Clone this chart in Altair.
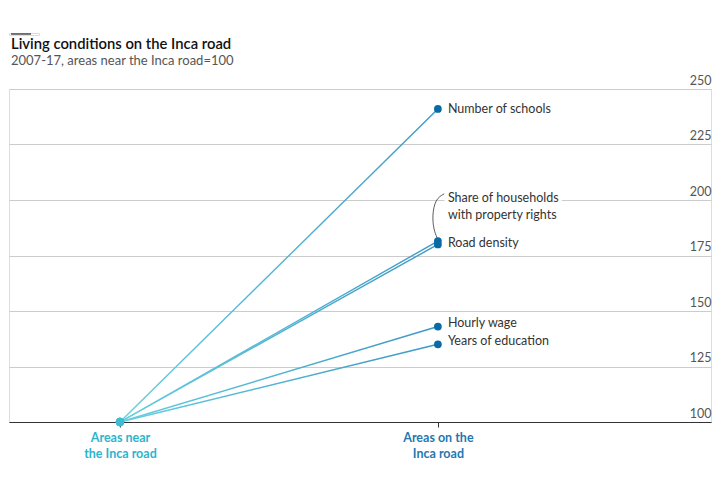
import altair as alt
import pandas as pd

# ---- data ----
categories = ["Areas near|the Inca road", "Areas on the|Inca road"]
series = ["Number of schools", "Share of households with property rights",
          "Road density", "Hourly wage", "Years of education"]
near_values = [100, 100, 100, 100, 100]
on_values = [241, 181.5, 180, 143, 135]
label_text = ["Number of schools", "Share of households\nwith property rights",
              "Road density", "Hourly wage", "Years of education"]
label_y = [241, 200.7, 180.5, 144.6, 136.6]
y_ticks = [100, 125, 150, 175, 200, 225, 250]
# connector (annotation curve) from label to dot
conn_x = [1.02, 0.992, 0.982, 0.987, 0.998]
conn_y = [202.8, 200.5, 193, 186.5, 182.8]

FONT = "Lato"

rows = []
for s, a, b in zip(series, near_values, on_values):
    rows.append({"series": s, "x": 0, "value": a})
    rows.append({"series": s, "x": 1, "value": b})
lines_df = pd.DataFrame(rows)
end_df = pd.DataFrame({"series": series, "x": [1] * len(series), "value": on_values})
start_df = pd.DataFrame({"series": series, "x": [0] * len(series), "value": near_values})
lab_df = pd.DataFrame({"text": label_text, "x": [1] * len(series), "value": label_y})
conn_df = pd.DataFrame({"x": conn_x, "value": conn_y, "i": list(range(len(conn_x)))})

cat_expr = "datum.value == 0 ? split('%s', '|') : split('%s', '|')" % (categories[0], categories[1])

x_enc = alt.X(
    "x:Q",
    scale=alt.Scale(domain=[-0.349, 1.859], nice=False, zero=False),
    axis=alt.Axis(
        values=[0, 1], title=None, grid=False,
        labelExpr=cat_expr,
        labelFont=FONT, labelFontSize=12.5, labelFontWeight="bold",
        labelColor={"condition": {"test": "datum.value == 0", "value": "#2bb4cc"}, "value": "#1f78b0"},
        labelLineHeight=16, labelPadding=4,
        domainColor="#333333", domainWidth=1,
        tickColor="#333333", tickSize=5, tickWidth=1,
    ),
)
y_enc = alt.Y(
    "value:Q",
    scale=alt.Scale(domain=[100, 250], nice=False, zero=False),
    axis=alt.Axis(
        orient="right", values=y_ticks, title=None,
        grid=True, gridColor="#cccccc", gridWidth=1,
        domain=False, ticks=False,
        labelAlign="right", labelBaseline="bottom", labelPadding=0, labelOffset=-2,
        labelFont=FONT, labelFontSize=12.5, labelColor="#555555",
    ),
)

grad = alt.Gradient(
    gradient="linear",
    stops=[alt.GradientStop(offset=0, color="#66cfe1"),
           alt.GradientStop(offset=1, color="#3d97c3")],
    x1=0, x2=1, y1=0, y2=0,
)

lines = alt.Chart(lines_df).mark_line(color=grad, strokeWidth=1.4).encode(
    x=x_enc, y=y_enc, detail="series:N"
)

conn = alt.Chart(conn_df).mark_line(color="#333333", strokeWidth=0.8, interpolate="basis").encode(
    x="x:Q", y="value:Q", order="i:Q"
)

end_dots = alt.Chart(end_df).mark_circle(size=60, color="#0a6aa5", opacity=1).encode(
    x="x:Q", y="value:Q"
)
start_dots = alt.Chart(start_df).mark_circle(size=70, color="#3ebcd2", opacity=1).encode(
    x="x:Q", y="value:Q"
)

halo = alt.Chart(lab_df).mark_text(
    align="left", baseline="middle", dx=10, font=FONT, fontSize=12.5,
    lineBreak="\n", lineHeight=17, fill="white", stroke="white", strokeWidth=7,
).encode(x="x:Q", y="value:Q", text="text:N")

labels = alt.Chart(lab_df).mark_text(
    align="left", baseline="middle", dx=10, font=FONT, fontSize=12.5,
    lineBreak="\n", lineHeight=17, color="#333333",
).encode(x="x:Q", y="value:Q", text="text:N")

main = alt.layer(lines, conn, end_dots, start_dots, halo, labels).properties(
    width=702,
    height=333,
    title=alt.TitleParams(
        text="Living conditions on the Inca road",
        subtitle="2007-17, areas near the Inca road=100",
        anchor="start", dx=2, offset=6,
        font=FONT, fontSize=14.8, fontWeight=600, color="#111111",
        subtitleFont=FONT, subtitleFontSize=13, subtitleColor="#555555",
        subtitlePadding=3,
    ),
)

bar = alt.Chart(pd.DataFrame({"k": [0]})).mark_rule(color="#222222", strokeWidth=1.2).encode(
    x=alt.value(2), x2=alt.value(22), y=alt.value(1)
).properties(width=30, height=2)

chart = alt.vconcat(bar, main, spacing=0).properties(
    padding={"left": 0, "top": 24, "right": 5, "bottom": 5},
).configure_view(stroke=None, strokeWidth=0).configure(background="white")

chart.save("out.html", embed_options={"renderer": "svg", "actions": False})
